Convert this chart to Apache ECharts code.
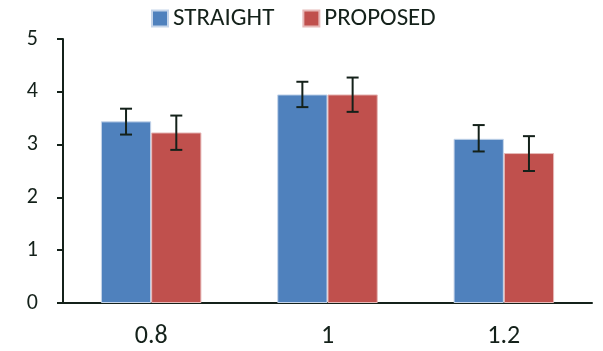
<!DOCTYPE html>
<html>
<head>
<meta charset="utf-8">
<script src="https://cdn.jsdelivr.net/npm/echarts@6/dist/echarts.min.js"></script>
<style>
html,body{margin:0;padding:0;background:#fff;}
#chart{width:603px;height:351px;}
</style>
</head>
<body>
<div id="chart"></div>
<script>
var categories = ['0.8', '1', '1.2'];
var straight = [3.44, 3.95, 3.11];
var straightErr = [[3.19, 3.68], [3.71, 4.19], [2.87, 3.37]];
var proposed = [3.23, 3.95, 2.84];
var proposedErr = [[2.90, 3.55], [3.62, 4.27], [2.50, 3.16]];
var yTicks = [0, 1, 2, 3, 4, 5];

var FONT = "Carlito, Lato, 'Noto Sans', sans-serif";
var INK = '#14211a';

var myChart = echarts.init(document.getElementById('chart'));

// error bars drawn over the bars, shifted by half a bar width
function errorBars(side) {
	return function (params, api) {
		var idx = api.value(0);
		var lo = api.coord([idx, api.value(1)]);
		var hi = api.coord([idx, api.value(2)]);
		var band = api.size([1, 0])[0];
		var x = lo[0] + side * band * 0.1425;
		var cap = 6;
		var st = { stroke: INK, lineWidth: 2 };
		return {
			type: 'group',
			children: [
				{ type: 'line', shape: { x1: x, y1: lo[1], x2: x, y2: hi[1] }, style: st },
				{ type: 'line', shape: { x1: x - cap, y1: hi[1], x2: x + cap, y2: hi[1] }, style: st },
				{ type: 'line', shape: { x1: x - cap, y1: lo[1], x2: x + cap, y2: lo[1] }, style: st }
			]
		};
	};
}

function errData(arr) {
	return arr.map(function (e, i) { return [i, e[0], e[1]]; });
}

var option = {
	animation: false,
	textStyle: { fontFamily: FONT },
	legend: {
		top: 1,
		left: 146,
		itemWidth: 16,
		itemHeight: 16,
		itemGap: 28,
		icon: 'rect',
		textStyle: { fontFamily: FONT, fontSize: 25, color: INK },
		data: ['STRAIGHT', 'PROPOSED']
	},
	grid: { left: 63, right: 11, top: 39, bottom: 48, containLabel: false },
	xAxis: {
		type: 'category',
		data: categories,
		axisLine: { lineStyle: { color: INK, width: 2 } },
		axisTick: { length: 7, lineStyle: { color: INK, width: 2 } },
		axisLabel: { fontFamily: FONT, fontSize: 26, color: INK, margin: 20 }
	},
	yAxis: {
		type: 'value',
		min: yTicks[0],
		max: yTicks[yTicks.length - 1],
		interval: 1,
		splitLine: { show: false },
		axisLine: { show: true, lineStyle: { color: INK, width: 2 } },
		axisTick: { show: true, length: 6, lineStyle: { color: INK, width: 2 } },
		axisLabel: { fontFamily: FONT, fontSize: 22, color: INK, margin: 25 }
	},
	series: [
		{
			name: 'STRAIGHT',
			type: 'bar',
			data: straight,
			barGap: '0%',
			barCategoryGap: '43%',
			itemStyle: { color: '#4F81BD', borderColor: '#c5d5ea', borderWidth: 1 }
		},
		{
			name: 'PROPOSED',
			type: 'bar',
			data: proposed,
			barGap: '0%',
			barCategoryGap: '43%',
			itemStyle: { color: '#C0504D', borderColor: '#e6b9b8', borderWidth: 1 }
		},
		{
			type: 'custom',
			renderItem: errorBars(-1),
			data: errData(straightErr),
			z: 5,
			encode: { x: 0, y: [1, 2] }
		},
		{
			type: 'custom',
			renderItem: errorBars(1),
			data: errData(proposedErr),
			z: 5,
			encode: { x: 0, y: [1, 2] }
		}
	]
};
myChart.setOption(option);
</script>
</body>
</html>
